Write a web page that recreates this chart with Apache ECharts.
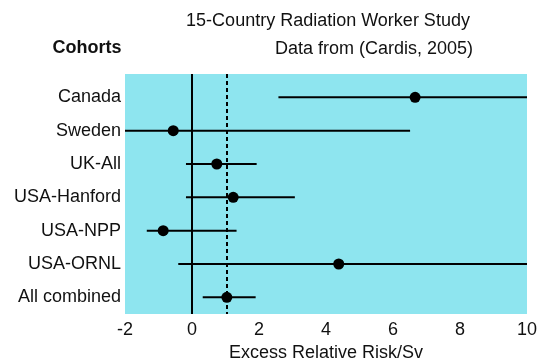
<!DOCTYPE html>
<html>
<head>
<meta charset="utf-8">
<script src="https://cdn.jsdelivr.net/npm/echarts@6/dist/echarts.min.js"></script>
<style>html,body{margin:0;padding:0;background:#fff}#c{width:537px;height:361px}</style>
</head>
<body>
<div id="c"></div>
<script>
var cohorts = ['Canada', 'Sweden', 'UK-All', 'USA-Hanford', 'USA-NPP', 'USA-ORNL', 'All combined'];
var estimate = [6.66, -0.56, 0.74, 1.23, -0.86, 4.38, 1.04];
var lower = [2.58, -2.0, -0.18, -0.18, -1.35, -0.41, 0.32];
var upper = [10.0, 6.51, 1.93, 3.07, 1.33, 10.0, 1.90];
var xTicks = [-2, 0, 2, 4, 6, 8, 10];
var combinedRef = 1.04;

var FONT = 'Arial, "Liberation Sans", sans-serif';
var chart = echarts.init(document.getElementById('c'), null, {renderer: 'canvas'});

var barData = cohorts.map(function (c, i) { return [lower[i], upper[i], i]; });
var pointData = cohorts.map(function (c, i) { return [estimate[i], i]; });

chart.setOption({
  animation: false,
  backgroundColor: '#ffffff',
  grid: {
    left: 125, right: 10, top: 74, bottom: 47,
    outerBoundsMode: 'none', containLabel: false,
    show: true, backgroundColor: '#8ee5ef', borderWidth: 0
  },
  graphic: [
    {type: 'text', x: 328, y: 21, style: {text: '15-Country Radiation Worker Study', font: '18px ' + FONT, fill: '#111', textAlign: 'center', textVerticalAlign: 'middle'}},
    {type: 'text', x: 374, y: 49, style: {text: 'Data from (Cardis, 2005)', font: '18px ' + FONT, fill: '#111', textAlign: 'center', textVerticalAlign: 'middle'}},
    {type: 'text', x: 87, y: 48, style: {text: 'Cohorts', font: 'bold 18px ' + FONT, fill: '#111', textAlign: 'center', textVerticalAlign: 'middle'}}
  ],
  xAxis: {
    type: 'value', min: xTicks[0], max: xTicks[xTicks.length - 1], interval: 2,
    axisLine: {show: false}, axisTick: {show: false}, splitLine: {show: false},
    axisLabel: {fontSize: 18, fontFamily: FONT, color: '#111', margin: 7,
      customValues: xTicks},
    name: 'Excess Relative Risk/Sv', nameLocation: 'middle', nameGap: 25,
    nameTextStyle: {fontSize: 18, fontFamily: FONT, color: '#111'}
  },
  yAxis: {
    type: 'value', min: -0.7, max: 6.5, inverse: true,
    axisLine: {show: false}, axisTick: {show: false}, splitLine: {show: false},
    axisLabel: {
      fontSize: 18, fontFamily: FONT, color: '#111', margin: 4,
      customValues: cohorts.map(function (c, i) { return i; }),
      formatter: function (v) { return cohorts[Math.round(v)] || ''; }
    }
  },
  series: [
    {
      type: 'custom',
      clip: true,
      data: barData,
      encode: {x: [0, 1], y: 2},
      renderItem: function (params, api) {
        var a = api.coord([api.value(0), api.value(2)]);
        var b = api.coord([api.value(1), api.value(2)]);
        return {type: 'line', shape: {x1: a[0], y1: a[1], x2: b[0], y2: b[1]},
          style: {stroke: '#000', lineWidth: 2}};
      },
      markLine: {
        silent: true, symbol: 'none', label: {show: false},
        data: [
          {xAxis: 0, lineStyle: {color: '#000', width: 2, type: 'solid'}},
          {xAxis: combinedRef, lineStyle: {color: '#000', width: 2, type: [4, 3]}}
        ]
      },
      z: 2
    },
    {
      type: 'scatter',
      data: pointData,
      symbol: 'circle', symbolSize: 11,
      itemStyle: {color: '#000', opacity: 1},
      z: 3
    }
  ]
});
</script>
</body>
</html>
